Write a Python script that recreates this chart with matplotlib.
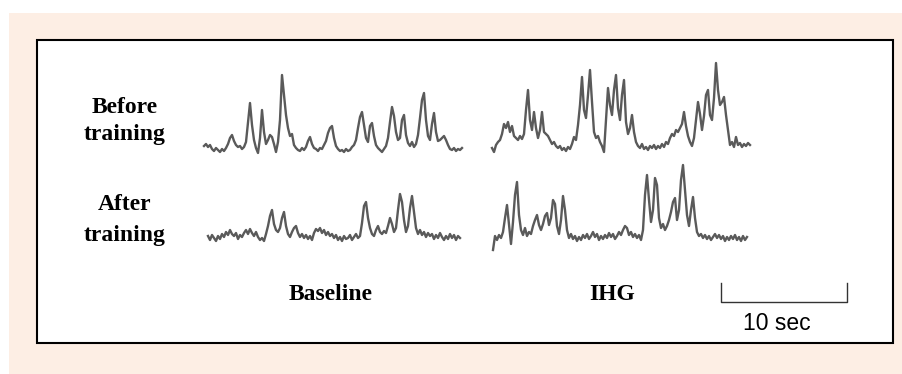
import matplotlib.pyplot as plt
from matplotlib.patches import Rectangle

# trace amplitudes (px above each trace's floor), one sample every 2 px
before_baseline = [4, 6, 3, 5, 1, -1, 2, 0, -2, 1, -1, 2, 6, 12, 15, 9, 5, 3, 4, 1,
                   3, 8, 28, 47, 25, 10, 2, -3, 12, 40, 18, 6, 10, 15, 13, 6, -2, 8, 30, 75,
                   55, 35, 22, 14, 16, 5, 2, 0, -1, 2, 0, 3, 9, 13, 6, 2, 1, -1, 2, 1,
                   5, 9, 17, 22, 24, 12, 4, 1, -1, 0, -2, 1, -1, 0, 3, 5, 10, 22, 33, 38,
                   25, 12, 8, 24, 27, 14, 5, 2, 0, -2, 1, 4, 12, 28, 43, 34, 18, 10, 12, 30,
                   35, 15, 7, 4, 8, 3, 6, 15, 32, 50, 57, 30, 14, 10, 26, 37, 18, 9, 10, 12,
                   14, 10, 5, 1, 0, 2, -1, 1, 0, 2]
before_ihg = [2, -2, 5, 8, 10, 16, 26, 22, 28, 18, 24, 14, 12, 10, 14, 11, 16, 40, 60, 30,
              20, 38, 22, 12, 20, 38, 18, 16, 14, 10, 6, 8, 4, 2, 4, 0, 2, -1, 3, 1,
              6, 13, 10, 25, 45, 73, 40, 32, 55, 80, 48, 18, 12, 14, 8, 4, -2, 30, 62, 45,
              35, 60, 75, 42, 30, 55, 70, 28, 16, 22, 35, 18, 8, 4, 2, 6, 1, 3, 0, 4,
              2, 5, 1, 4, 2, 6, 3, 8, 6, 12, 16, 14, 20, 18, 22, 26, 38, 24, 14, 8,
              4, 12, 30, 48, 36, 20, 34, 55, 60, 35, 30, 52, 87, 60, 45, 48, 53, 35, 20, 5,
              8, 3, 13, 5, 7, 3, 6, 4, 7, 5]
after_baseline = [2, -2, 3, 0, -3, 2, -1, 4, 1, 6, 3, 8, 4, 2, 5, -1, 3, 1, 5, 8,
                  4, 9, 5, 2, 6, 1, -2, 0, -3, 4, 12, 22, 28, 14, 8, 6, 10, 20, 26, 12,
                  4, 1, 6, 10, 12, 5, 1, 4, 0, 3, -1, 2, -2, 5, 9, 7, 10, 5, 8, 3,
                  6, 2, 4, 0, 3, -2, 1, -3, 2, -1, 0, 3, -2, 1, 4, 0, 2, 15, 32, 36,
                  20, 10, 4, 2, 8, 12, 6, 4, 7, 5, 12, 20, 14, 6, 10, 28, 44, 36, 18, 6,
                  12, 30, 42, 26, 10, 4, 8, 3, 6, 1, 5, 2, 4, -1, 3, 0, 5, 1, -2, 2,
                  -1, 4, 0, 3, -2, 2, 0]
after_ihg = [-10, 4, 0, 5, 2, 8, 22, 35, 15, -4, 18, 45, 58, 25, 10, 5, 12, 4, 8, 6,
             14, 20, 25, 15, 10, 16, 24, 27, 15, 22, 40, 36, 14, 6, 20, 44, 30, 10, 2, 6,
             1, 4, -1, 3, 0, 5, 2, 6, 1, 4, 8, 3, 6, 0, 4, 1, 5, 2, 7, 3,
             6, 1, 4, 8, 5, 10, 14, 12, 5, 8, 3, 6, 2, 5, 0, 10, 45, 65, 40, 18,
             30, 62, 55, 22, 12, 16, 10, 14, 20, 28, 38, 42, 20, 30, 60, 75, 50, 25, 14, 30,
             43, 22, 8, 4, 6, 2, 5, 1, 4, 0, 3, 6, 2, 5, 1, 4, -1, 3, 0, 4,
             1, 5, 0, 3, -1, 4, 0, 3]

row_labels = ['Before\ntraining', 'After\ntraining']
col_labels = ['Baseline', 'IHG']
scale_label = '10 sec'

fig = plt.figure(figsize=(9.03, 3.74), dpi=100)
ax = fig.add_axes([0, 0, 1, 1])
ax.set_xlim(0, 903)
ax.set_ylim(374, 0)
ax.axis('off')

# peach background and framed panel
ax.add_patch(Rectangle((9, 13), 900, 370, facecolor='#fdeee4', edgecolor='none'))
ax.add_patch(Rectangle((37, 40), 856, 303, facecolor='white', edgecolor='black', lw=1.5))

trace_color = '#5a5a5a'
traces = [
    (before_baseline, 204, 150),
    (before_ihg, 492, 150),
    (after_baseline, 208, 238),
    (after_ihg, 493, 240),
]
for vals, x0, floor in traces:
    xs = [x0 + 2 * i for i in range(len(vals))]
    ys = [floor - v for v in vals]
    ax.plot(xs, ys, color=trace_color, lw=1.7)

serif = ['Liberation Serif', 'DejaVu Serif']
for lab, y, sp in zip(row_labels, [121, 220], [1.4, 1.6]):
    ax.text(125, y, lab, ha='center', va='center', family=serif, fontweight='bold',
            fontsize=17, linespacing=sp)
for lab, x in zip(col_labels, [331, 612]):
    ax.text(x, 295, lab, ha='center', va='center', family=serif, fontweight='bold',
            fontsize=17)

# scale bar
ax.plot([721, 721, 847, 847], [283, 302, 302, 283], color='#333333', lw=1)
ax.text(777, 323, scale_label, ha='center', va='center', family='Liberation Sans',
        fontsize=16.5)

fig.savefig('out.png', dpi=100)
